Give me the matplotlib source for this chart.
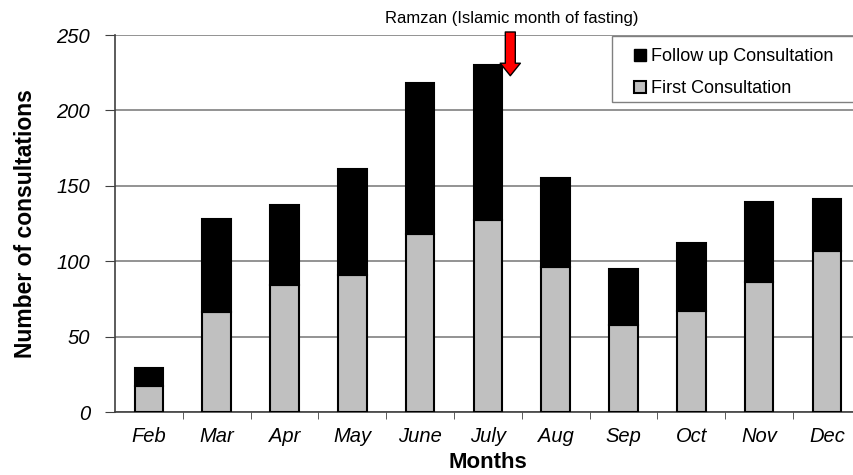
import matplotlib
matplotlib.use("Agg")
import matplotlib.pyplot as plt
from matplotlib.patches import Patch, Rectangle

# data
months = ["Feb", "Mar", "Apr", "May", "June", "July", "Aug", "Sep", "Oct", "Nov", "Dec"]
first_consult = [17, 66, 84, 91, 118, 127, 96, 58, 67, 86, 107]
total_consult = [29, 128, 137, 161, 218, 230, 155, 95, 112, 139, 141]
follow_up = [t - f for t, f in zip(total_consult, first_consult)]
y_ticks = [0, 50, 100, 150, 200, 250]

plt.rcParams["font.family"] = ["Liberation Sans", "DejaVu Sans"]

fig = plt.figure(figsize=(8.54, 4.75), dpi=100)
ax = fig.add_axes([0.1347, 0.1326, 0.8733, 0.7937])

x = list(range(len(months)))
bar_w = 0.42
ax.bar(x, first_consult, width=bar_w, color="#c0c0c0", edgecolor="black", linewidth=1.5, zorder=3)
ax.bar(x, follow_up, width=bar_w, bottom=first_consult, color="black", edgecolor="black",
       linewidth=1.5, zorder=3)

ax.set_xlim(-0.5, len(months) - 0.5)
ax.set_ylim(0, 250)
ax.set_yticks(y_ticks)
ax.set_yticklabels([str(v) for v in y_ticks], fontsize=14.5, style="italic")
ax.set_xticks(x)
ax.set_xticklabels(months, fontsize=14.5, style="italic")
ax.set_xticks([i + 0.5 for i in x], minor=True)
ax.tick_params(axis="x", which="major", length=0, pad=11)
ax.tick_params(axis="x", which="minor", length=5, color="#404040")
ax.tick_params(axis="y", length=7, color="#404040", pad=11)

ax.yaxis.grid(True, color="#808080", linewidth=1.2, zorder=0)
ax.set_axisbelow(True)
for s in ["top", "right"]:
    ax.spines[s].set_visible(False)
ax.spines["left"].set_color("#404040")
ax.spines["bottom"].set_color("#404040")
ax.spines["left"].set_linewidth(1.2)
ax.spines["bottom"].set_linewidth(1.2)

ax.set_xlabel("Months", fontsize=16, fontweight="bold", labelpad=4)
ax.set_ylabel("Number of consultations", fontsize=16.5, fontweight="bold", labelpad=14)

# Ramzan marker
ax.annotate("", xy=(5.33, 223), xytext=(5.33, 252),
            arrowprops=dict(arrowstyle="simple,head_length=0.9,head_width=1.45,tail_width=0.72",
                            fc="red", ec="black", lw=1, mutation_scale=10, shrinkA=0, shrinkB=0),
            annotation_clip=False, zorder=5)
fig.text(512 / 854, 1 - 18 / 475, "Ramzan (Islamic month of fasting)", ha="center", va="center",
         fontsize=12)

# legend box drawn separately so the padding matches the original
fig.add_artist(Rectangle((612 / 854, 1 - 102 / 475), 243 / 854, 66 / 475,
                         transform=fig.transFigure, fc="white", ec="#808080", lw=1.0, zorder=5))
handles = [Patch(facecolor="black", edgecolor="black", label="Follow up Consultation"),
           Patch(facecolor="#c0c0c0", edgecolor="black", linewidth=1.5, label="First Consultation")]
leg = fig.legend(handles=handles, loc="upper left", bbox_to_anchor=(634 / 854, 1 - 48 / 475),
                 fontsize=13, frameon=False, handlelength=0.65, handleheight=0.65,
                 handletextpad=0.3, borderpad=0, labelspacing=0.83, borderaxespad=0)
leg.set_zorder(6)

fig.savefig("out.png", dpi=100)
plt.close(fig)
